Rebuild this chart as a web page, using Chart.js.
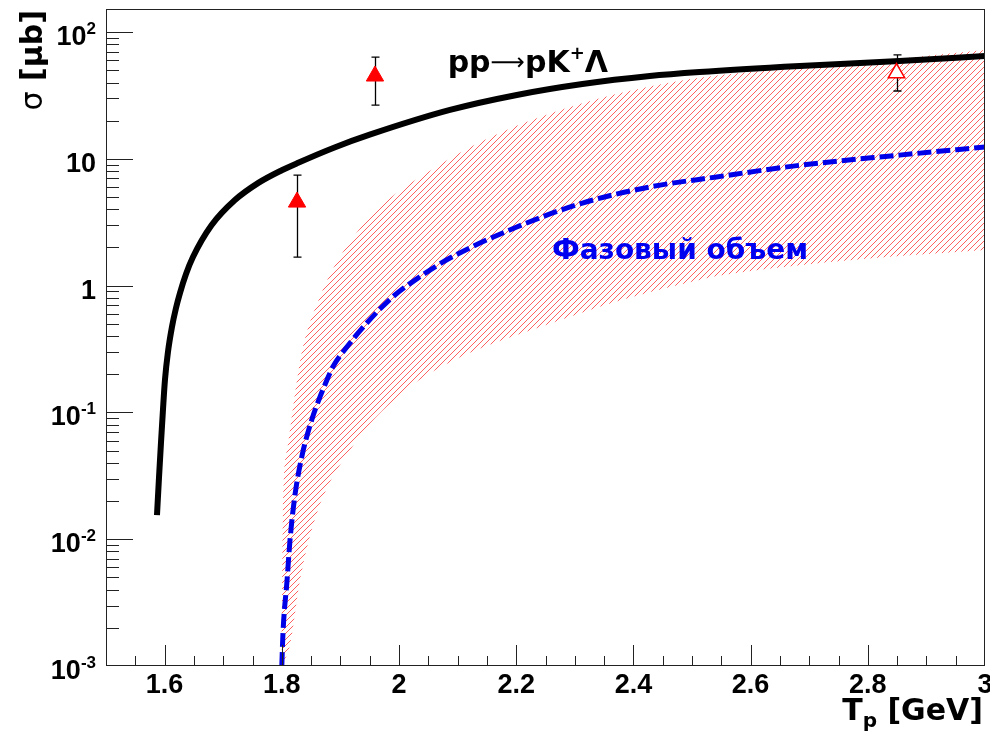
<!DOCTYPE html>
<html>
<head>
<meta charset="utf-8">
<script src="https://cdn.jsdelivr.net/npm/chart.js@4.4.0/dist/chart.umd.min.js"></script>
<style>
html, body { margin: 0; padding: 0; background: #fff; }
#c { display: block; }
</style>
</head>
<body>
<canvas id="c" width="990" height="744"></canvas>
<script>
// pp -> pK+Lambda calculation (black solid line)
const calcX = [1.587, 1.5904, 1.5938, 1.5972, 1.6006, 1.6057, 1.6125, 1.6194, 1.6262, 1.6364, 1.6484, 1.68, 1.72, 1.76, 1.80, 1.826, 1.89, 1.95, 2.087, 2.201, 2.313, 2.428, 2.513, 2.684, 2.854, 3.0];
const calcY = [0.0155, 0.0304, 0.0574, 0.1045, 0.18, 0.299, 0.471, 0.665, 0.874, 1.23, 1.68, 2.99, 4.73, 6.46, 8.13, 9.23, 12.3, 15.5, 24.3, 31.9, 38.9, 45.0, 48.4, 54.0, 59.0, 64.7];

// phase space (blue dashed line)
const phaseX = [1.800, 1.802, 1.809, 1.814, 1.822, 1.834, 1.851, 1.865, 1.877, 1.887, 1.911, 1.945, 1.989, 2.035, 2.087, 2.201, 2.313, 2.428, 2.542, 2.684, 2.854, 3.0];
const phaseY = [0.001, 0.00182, 0.00476, 0.00986, 0.0215, 0.0445, 0.087, 0.132, 0.18, 0.228, 0.328, 0.507, 0.813, 1.17, 1.65, 2.90, 4.48, 6.0, 7.2, 8.9, 10.7, 12.4];

// hatched band around the phase space
const bandTopX = [1.800, 1.802, 1.810, 1.826, 1.836, 1.865, 1.899, 1.950, 1.996, 2.047, 2.109, 2.201, 2.313, 2.428, 2.513, 2.684, 2.854, 3.0];
const bandTopY = [0.00134, 0.0161, 0.0533, 0.180, 0.328, 0.813, 1.68, 3.47, 5.37, 7.72, 11.5, 18.2, 27.5, 37.2, 43.6, 52.5, 61.7, 72.1];
const bandLowX = [1.800, 1.814, 1.831, 1.860, 1.920, 2.001, 2.087, 2.257, 2.371, 2.484, 2.547, 2.684, 2.854, 3.0];
const bandLowY = [0.001, 0.00147, 0.00476, 0.0161, 0.0533, 0.137, 0.249, 0.5, 0.75, 1.03, 1.2, 1.45, 1.71, 1.91];

// measurements
const measX = [1.826, 1.959, 2.849];
const measY = [4.56, 45, 47.5];
const measLow = [1.68, 26.5, 34.3];
const measHigh = [7.45, 63.5, 66];
const measOpen = [false, false, true];

const xTicks = [1.6, 1.8, 2, 2.2, 2.4, 2.6, 2.8, 3];
const xTickLabels = ['1.6', '1.8', '2', '2.2', '2.4', '2.6', '2.8', '3'];
const yTicks = [1e-3, 1e-2, 1e-1, 1, 10, 100];
const yTickLabels = [['10', '-3'], ['10', '-2'], ['10', '-1'], ['1', ''], ['10', ''], ['10', '2']];

const pts = (xs, ys) => xs.map((x, i) => ({ x: x, y: ys[i] }));

const LABEL_FONT = 'bold 27px "Liberation Sans", Arial, sans-serif';
const SUP_FONT = 'bold 17px "Liberation Sans", Arial, sans-serif';
const TITLE = '"DejaVu Sans", sans-serif';

// hatch the area between band datasets 0 (top) and 1 (bottom)
const hatchBand = {
    id: 'hatchBand',
    afterDatasetDraw(chart, args) {
        if (args.index !== 0) return;
        const { ctx, chartArea: a } = chart;
        const top = chart.getDatasetMeta(0).dataset;
        const low = chart.getDatasetMeta(1).dataset;
        top.updateControlPoints(a, 'x');
        low.updateControlPoints(a, 'x');
        const lp = low.points;
        ctx.save();
        ctx.beginPath();
        ctx.rect(a.left, a.top, a.right - a.left, a.bottom - a.top);
        ctx.clip();
        ctx.beginPath();
        top.path(ctx);
        const n = lp.length;
        ctx.lineTo(lp[n - 1].x, lp[n - 1].y);
        for (let i = n - 1; i > 0; i--) {
            const p = lp[i], q = lp[i - 1];
            ctx.bezierCurveTo(p.cp1x, p.cp1y, q.cp2x, q.cp2y, q.x, q.y);
        }
        ctx.closePath();
        ctx.clip();
        ctx.strokeStyle = 'rgba(255,0,0,0.62)';
        ctx.lineWidth = 1;
        ctx.beginPath();
        const h = a.bottom - a.top;
        for (let k = -h; k < a.right - a.left + 6; k += 6) {
            ctx.moveTo(a.left + k, a.bottom);
            ctx.lineTo(a.left + k + h, a.top);
        }
        ctx.stroke();
        ctx.restore();
    }
};

const errorBars = {
    id: 'errorBars',
    beforeDatasetDraw(chart, args) {
        if (args.index !== 4) return;
        const { ctx, scales: { x, y } } = chart;
        ctx.save();
        ctx.strokeStyle = '#000';
        ctx.lineWidth = 1.3;
        ctx.beginPath();
        measX.forEach((v, i) => {
            const px = Math.round(x.getPixelForValue(v)) + 0.5;
            const y1 = y.getPixelForValue(measLow[i]);
            const y2 = y.getPixelForValue(measHigh[i]);
            ctx.moveTo(px, y1); ctx.lineTo(px, y2);
            ctx.moveTo(px - 4, y1); ctx.lineTo(px + 4, y1);
            ctx.moveTo(px - 4, y2); ctx.lineTo(px + 4, y2);
        });
        ctx.stroke();
        ctx.restore();
    }
};

const rootAxes = {
    id: 'rootAxes',
    afterDatasetsDraw(chart) {
        const { ctx, chartArea: a, scales: { x, y } } = chart;
        ctx.save();
        ctx.strokeStyle = '#222';
        ctx.lineWidth = 1;
        ctx.strokeRect(a.left + 0.5, a.top + 0.5, a.right - a.left - 1, a.bottom - a.top - 1);

        // x ticks, inward
        ctx.beginPath();
        for (let i = 31; i <= 59; i++) {
            const px = Math.round(x.getPixelForValue(i * 0.05)) + 0.5;
            const len = i % 4 === 0 ? 21 : 10;
            ctx.moveTo(px, a.bottom); ctx.lineTo(px, a.bottom - len);
        }
        // y ticks, inward
        for (let d = -3; d <= 2; d++) {
            for (let m = 1; m <= 9; m++) {
                const v = m * Math.pow(10, d);
                if (v > y.max || v <= y.min) continue;
                const py = Math.round(y.getPixelForValue(v)) + 0.5;
                const len = m === 1 ? 27 : 13;
                ctx.moveTo(a.left, py); ctx.lineTo(a.left + len, py);
            }
        }
        ctx.stroke();

        ctx.fillStyle = '#000';
        ctx.font = LABEL_FONT;
        ctx.textAlign = 'center';
        ctx.textBaseline = 'alphabetic';
        xTicks.forEach((v, i) => {
            ctx.fillText(xTickLabels[i], x.getPixelForValue(v), a.bottom + 27);
        });

        ctx.textAlign = 'right';
        const rx = a.left - 10;
        yTicks.forEach((v, i) => {
            const py = y.getPixelForValue(v);
            const [base, sup] = yTickLabels[i];
            ctx.font = SUP_FONT;
            const sw = sup ? ctx.measureText(sup).width : 0;
            if (sup) ctx.fillText(sup, rx, py + 2);
            ctx.font = LABEL_FONT;
            ctx.fillText(base, rx - sw, py + 13);
        });

        // x title: T_p [GeV]
        ctx.textAlign = 'left';
        ctx.font = 'bold 30px ' + TITLE;
        const wT = ctx.measureText('T').width;
        const wRest = ctx.measureText(' [GeV]').width;
        ctx.font = 'bold 20px ' + TITLE;
        const wp = ctx.measureText('p').width;
        const tx = 983 - wT - wp - wRest;
        ctx.font = 'bold 30px ' + TITLE;
        ctx.fillText('T', tx, 720);
        ctx.font = 'bold 20px ' + TITLE;
        ctx.fillText('p', tx + wT, 727);
        ctx.font = 'bold 30px ' + TITLE;
        ctx.fillText(' [GeV]', tx + wT + wp, 720);

        // y title: sigma [mub], rotated
        ctx.save();
        ctx.translate(42, 10);
        ctx.rotate(-Math.PI / 2);
        ctx.font = '30px ' + TITLE;
        const ws = ctx.measureText('σ').width;
        ctx.font = 'bold 30px ' + TITLE;
        const wb = ctx.measureText(' [μb]').width;
        ctx.font = '30px ' + TITLE;
        ctx.fillText('σ', -(ws + wb), 0);
        ctx.font = 'bold 30px ' + TITLE;
        ctx.fillText(' [μb]', -wb, 0);
        ctx.restore();

        // curve labels
        let lx = x.getPixelForValue(2.083);
        const ly = y.getPixelForValue(48.3);
        ctx.font = 'bold 30px ' + TITLE;
        ctx.fillText('pp', lx, ly);
        lx += ctx.measureText('pp').width;
        ctx.font = '24px ' + TITLE;
        ctx.fillText('⟶', lx, ly - 2);
        lx += ctx.measureText('⟶').width;
        ctx.font = 'bold 30px ' + TITLE;
        ctx.fillText('pK', lx, ly);
        lx += ctx.measureText('pK').width;
        ctx.font = 'bold 18px ' + TITLE;
        ctx.fillText('+', lx, ly - 13);
        lx += ctx.measureText('+').width;
        ctx.font = 'bold 30px ' + TITLE;
        ctx.fillText('Λ', lx, ly);

        ctx.fillStyle = '#0000f0';
        ctx.font = 'bold 28px ' + TITLE;
        ctx.fillText('Фазовый объем', x.getPixelForValue(2.261), y.getPixelForValue(1.62));
        ctx.restore();
    }
};

new Chart(document.getElementById('c'), {
    type: 'line',
    data: {
        datasets: [
            {
                data: pts(bandTopX, bandTopY),
                fill: false,
                borderColor: 'transparent',
                borderWidth: 0,
                pointRadius: 0,
                cubicInterpolationMode: 'monotone',
                order: 3
            },
            {
                data: pts(bandLowX, bandLowY),
                fill: false,
                borderColor: 'transparent',
                borderWidth: 0,
                pointRadius: 0,
                cubicInterpolationMode: 'monotone',
                order: 4
            },
            {
                data: pts(phaseX, phaseY),
                borderColor: '#0000e8',
                borderWidth: 5,
                borderDash: [14, 5],
                pointRadius: 0,
                fill: false,
                cubicInterpolationMode: 'monotone',
                order: 2
            },
            {
                data: pts(calcX, calcY),
                borderColor: '#000',
                borderWidth: 6,
                pointRadius: 0,
                fill: false,
                cubicInterpolationMode: 'monotone',
                order: 1
            },
            {
                data: pts(measX, measY),
                showLine: false,
                pointStyle: 'triangle',
                pointRadius: measOpen.map(o => o ? 9.5 : 10),
                pointBackgroundColor: measOpen.map(o => o ? '#fff' : '#ff0000'),
                pointBorderColor: '#ff0000',
                pointBorderWidth: measOpen.map(o => o ? 1.5 : 1),
                order: 0
            }
        ]
    },
    options: {
        responsive: false,
        animation: false,
        devicePixelRatio: 1,
        layout: { autoPadding: false, padding: { left: 106, right: 5, top: 9, bottom: 78 } },
        plugins: { legend: { display: false }, tooltip: { enabled: false } },
        scales: {
            x: { type: 'linear', min: 1.5, max: 3.0, display: false },
            y: { type: 'logarithmic', min: 0.001, max: 152, display: false }
        }
    },
    plugins: [hatchBand, errorBars, rootAxes]
});
</script>
</body>
</html>
